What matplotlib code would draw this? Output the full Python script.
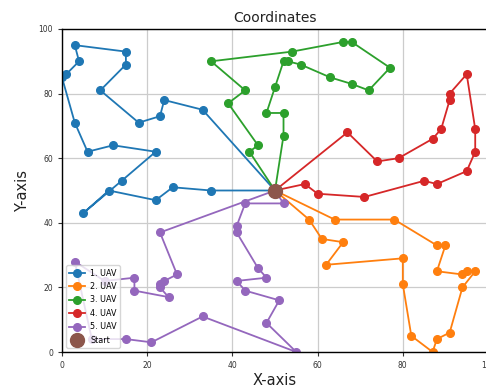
import matplotlib
matplotlib.use("Agg")
import matplotlib.pyplot as plt

start = (50, 50)

uav1_x = [33, 24, 23, 18, 9, 15, 15, 3, 4, 1, 0, 3, 6, 12, 22, 14, 5, 11, 22, 26, 35]
uav1_y = [75, 78, 73, 71, 81, 89, 93, 95, 90, 86, 85, 71, 62, 64, 62, 53, 43, 50, 47, 51, 50]

uav2_x = [64, 78, 88, 90, 88, 94, 95, 97, 94, 91, 88, 87, 82, 80, 80, 62, 66, 61, 58]
uav2_y = [41, 41, 33, 33, 25, 24, 25, 25, 20, 6, 4, 0, 5, 21, 29, 27, 34, 35, 41]

uav3_x = [44, 46, 39, 43, 35, 54, 66, 68, 77, 72, 68, 63, 56, 53, 52, 50, 48, 52, 52]
uav3_y = [62, 64, 77, 81, 90, 93, 96, 96, 88, 81, 83, 85, 89, 90, 90, 82, 74, 74, 67]

uav4_x = [67, 74, 79, 87, 89, 91, 91, 95, 97, 97, 95, 88, 85, 71, 60, 57]
uav4_y = [68, 59, 60, 66, 69, 78, 80, 86, 69, 62, 56, 52, 53, 48, 49, 52]

uav5_x = [52, 43, 41, 41, 46, 48, 41, 43, 51, 48, 55, 33, 21, 15, 7, 3, 10, 17, 17, 25, 23, 23, 24, 27, 23]
uav5_y = [46, 46, 39, 37, 26, 23, 22, 19, 16, 9, 0, 11, 3, 4, 4, 28, 22, 23, 19, 17, 20, 21, 22, 24, 37]

labels = ["1. UAV", "2. UAV", "3. UAV", "4. UAV", "5. UAV"]
routes = [(uav1_x, uav1_y), (uav2_x, uav2_y), (uav3_x, uav3_y), (uav4_x, uav4_y), (uav5_x, uav5_y)]

fig = plt.figure(figsize=(4.86, 3.87), dpi=100)
ax = fig.add_axes([62/486, 35/387, 426/486, 323/387])

for i, ((xs, ys), lab) in enumerate(zip(routes, labels)):
    px = [start[0]] + list(xs) + [start[0]]
    py = [start[1]] + list(ys) + [start[1]]
    ax.plot(px, py, marker='o', color=f'C{i}', lw=1.3, markersize=5.5, label=lab)

ax.plot([start[0]], [start[1]], 'o', color='C5', markersize=10, label='Start', linestyle='None')

ax.set_xlim(0, 100)
ax.set_ylim(0, 100)
ax.set_xticks([0, 20, 40, 60, 80, 100])
ax.set_yticks([0, 20, 40, 60, 80, 100])
ax.tick_params(labelsize=5.5, colors='#333333', length=3, width=0.8)
ax.grid(True, color='#cccccc', linewidth=0.9)
ax.set_axisbelow(True)
for s in ax.spines.values():
    s.set_linewidth(1.0)
    s.set_color('black')

ax.set_title("Coordinates", fontsize=10, color='#222222', pad=5)
ax.set_xlabel("X-axis", fontsize=10.5, color='#222222', labelpad=2)
ax.set_ylabel("Y-axis", fontsize=10.5, color='#222222', labelpad=6)

ax.legend(loc='lower left', fontsize=5.8, markerscale=1.0, handlelength=2.0,
          borderpad=0.4, labelspacing=0.55, handletextpad=0.6, framealpha=0.8)

fig.savefig("out.png", dpi=100)
